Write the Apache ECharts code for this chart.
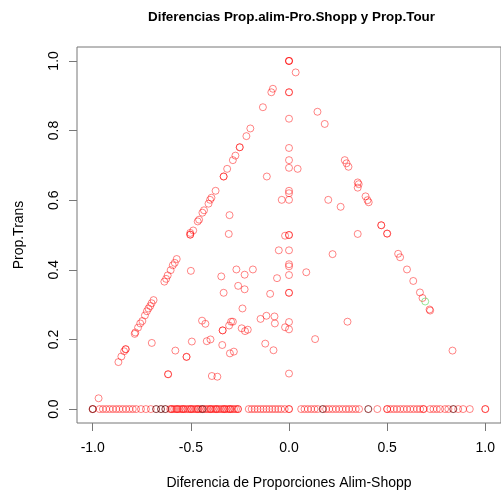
<!DOCTYPE html>
<html>
<head>
<meta charset="utf-8">
<script src="https://cdn.jsdelivr.net/npm/echarts@6/dist/echarts.min.js"></script>
<style>
  html, body { margin: 0; padding: 0; background: #fff; }
  #chart { width: 501px; height: 495px; }
</style>
</head>
<body>
<div id="chart"></div>
<script>
// puntos (x = diferencia alim-shopp, y = prop.trans)
var colCeroY = [1.0, 1.0, 1.0, 0.91, 0.91, 0.834, 0.75, 0.715, 0.693, 0.627, 0.62, 0.601, 0.5, 0.5,
                0.456, 0.416, 0.41, 0.385, 0.334, 0.334, 0.25, 0.229, 0.102];

var diagIzqX = [-0.082, -0.09, -0.133, -0.197, -0.217, -0.251, -0.251, -0.273, -0.286, -0.315, -0.333, -0.333,
                -0.374, -0.395, -0.402, -0.41, -0.433, -0.441, -0.458, -0.465, -0.488, -0.503, -0.503, -0.503,
                -0.572, -0.582, -0.592, -0.603, -0.618, -0.626, -0.635, -0.69, -0.70, -0.707, -0.716, -0.724,
                -0.734, -0.747, -0.758, -0.769, -0.783, -0.786, -0.832, -0.832, -0.84, -0.854, -0.869, -0.97];
var diagIzqY = [0.92, 0.91, 0.867, 0.806, 0.784, 0.752, 0.752, 0.728, 0.715, 0.69, 0.668, 0.668,
                0.627, 0.607, 0.601, 0.59, 0.571, 0.564, 0.544, 0.539, 0.513, 0.506, 0.501, 0.501,
                0.431, 0.42, 0.413, 0.399, 0.384, 0.374, 0.366, 0.313, 0.304, 0.296, 0.289, 0.281,
                0.269, 0.253, 0.246, 0.234, 0.22, 0.216, 0.172, 0.172, 0.166, 0.151, 0.135, 0.031];

var diagDerX = [0.034, 0.145, 0.182, 0.284, 0.293, 0.303, 0.35, 0.355, 0.35, 0.39, 0.40, 0.406, 0.47, 0.47,
                0.5, 0.5, 0.556, 0.566, 0.601, 0.633, 0.667, 0.68, 0.716, 0.719];
var diagDerY = [0.967, 0.854, 0.819, 0.715, 0.706, 0.696, 0.651, 0.646, 0.636, 0.611, 0.6, 0.594, 0.528, 0.528,
                0.504, 0.504, 0.446, 0.436, 0.401, 0.368, 0.335, 0.319, 0.286, 0.283];

var interiorX = [-0.113, 0.044, -0.303, -0.037, -0.307, -0.02, 0.2, 0.263, 0.35, -0.052, 0.222, -0.268,
                 -0.226, -0.184, -0.345, -0.061, 0.088, -0.259, -0.226, -0.333, -0.096, -0.237, -0.295, -0.286,
                 -0.305, -0.338, -0.338, -0.241, -0.224, -0.21, -0.145, -0.115, -0.074, -0.072, -0.02, 0.298,
                 0.133, -0.34, -0.121, -0.079, -0.301, -0.281, -0.5, -0.443, -0.426, -0.419, -0.40, -0.699,
                 -0.579, -0.522, -0.522, -0.495, -0.616, -0.616, -0.393, -0.365, 0.833];
var interiorY = [0.668, 0.69, 0.557, 0.601, 0.503, 0.498, 0.601, 0.581, 0.503, 0.456, 0.445, 0.401,
                 0.386, 0.401, 0.381, 0.376, 0.393, 0.354, 0.344, 0.334, 0.331, 0.289, 0.251, 0.251,
                 0.24, 0.226, 0.226, 0.232, 0.224, 0.228, 0.259, 0.268, 0.266, 0.246, 0.235, 0.251,
                 0.201, 0.184, 0.188, 0.169, 0.16, 0.165, 0.397, 0.254, 0.245, 0.195, 0.2, 0.19,
                 0.168, 0.15, 0.15, 0.194, 0.1, 0.1, 0.095, 0.093, 0.168];

// fila de ceros (y = 0)
var filaCeroX = [-1.0, -1.0, -0.965, -0.948, -0.931, -0.914, -0.897, -0.88, -0.864, -0.847, -0.83, -0.813, -0.796,
                 -0.779, -0.754, -0.729, -0.704, -0.677, -0.652, -0.63,
                 -0.605, -0.6, -0.595, -0.585, -0.575, -0.57, -0.565, -0.556, -0.546, -0.54, -0.536, -0.527,
                 -0.517, -0.508, -0.5, -0.498, -0.489, -0.479, -0.47, -0.465, -0.46, -0.45, -0.441, -0.432,
                 -0.422, -0.413, -0.403, -0.4, -0.394, -0.384, -0.375, -0.37, -0.365, -0.356, -0.346, -0.337,
                 -0.33, -0.327, -0.318, -0.308, -0.3, -0.299, -0.289, -0.28, -0.27, -0.26, -0.26,
                 -0.205, -0.19, -0.175, -0.16, -0.145, -0.13, -0.115, -0.1, -0.085,
                 -0.07, -0.055, -0.04, -0.022, 0.0, 0.0,
                 0.062, 0.079, 0.096, 0.113, 0.13, 0.146, 0.172, 0.189, 0.205, 0.222, 0.239, 0.256, 0.273,
                 0.29, 0.306, 0.323, 0.34, 0.357, 0.404, 0.45, 0.5, 0.5, 0.517, 0.534, 0.55, 0.567, 0.584,
                 0.601, 0.618, 0.635, 0.652, 0.668, 0.685, 0.685, 0.719, 0.736, 0.753, 0.77, 0.795, 0.812,
                 0.837, 0.862, 0.887, 0.921, 1.0, 1.0];
var filaCeroOscX = [-1.0, -0.677, -0.652, -0.63, -0.441, 0.172, 0.404, 0.837];

var verdeX = [0.694];
var verdeY = [0.309];

var xTicks = [-1.0, -0.5, 0.0, 0.5, 1.0];
var yTicks = [0.0, 0.2, 0.4, 0.6, 0.8, 1.0];

function pares(xs, ys) {
  return xs.map(function (x, i) { return [x, ys[i]]; });
}

var rojos = []
  .concat(colCeroY.map(function (y) { return [0, y]; }))
  .concat(pares(diagIzqX, diagIzqY))
  .concat(pares(diagDerX, diagDerY))
  .concat(pares(interiorX, interiorY))
  .concat(filaCeroX.map(function (x) { return [x, 0]; }));
var oscuros = filaCeroOscX.map(function (x) { return [x, 0]; });
var verdes = pares(verdeX, verdeY);

var fuente = 'Liberation Sans, Arial, sans-serif';

function serie(datos, borde) {
  return {
    type: 'scatter',
    data: datos,
    symbol: 'circle',
    symbolSize: 7,
    silent: true,
    itemStyle: { color: 'transparent', borderColor: borde, borderWidth: 1 }
  };
}

var chart = echarts.init(document.getElementById('chart'), null, { renderer: 'canvas' });
chart.setOption({
  animation: false,
  backgroundColor: '#fff',
  title: {
    text: 'Diferencias Prop.alim-Pro.Shopp y Prop.Tour',
    left: 143, top: 6,
    textStyle: { fontFamily: fuente, fontWeight: 'bold', fontSize: 13.4, color: '#000' }
  },
  grid: { left: 77, top: 47, width: 428, height: 377, show: true, borderColor: '#777', borderWidth: 1, backgroundColor: 'transparent' },
  xAxis: {
    type: 'value', min: -1.08, max: 1.08,
    name: 'Diferencia de Proporciones Alim-Shopp', nameLocation: 'middle', nameGap: 53,
    nameTextStyle: { fontFamily: fuente, fontSize: 14, color: '#000' },
    axisLine: { show: false, onZero: false },
    splitLine: { show: false },
    axisTick: { show: true, length: 8, customValues: xTicks, lineStyle: { color: '#777' } },
    axisLabel: { customValues: xTicks, margin: 18, fontFamily: fuente, fontSize: 14, color: '#000',
                 formatter: function (v) { return v.toFixed(1); } }
  },
  yAxis: {
    type: 'value', min: -0.04, max: 1.04,
    name: 'Prop.Trans', nameLocation: 'middle', nameGap: 51,
    nameTextStyle: { fontFamily: fuente, fontSize: 14, color: '#000' },
    axisLine: { show: false, onZero: false },
    splitLine: { show: false },
    axisTick: { show: true, length: 8, customValues: yTicks, lineStyle: { color: '#777' } },
    axisLabel: { customValues: yTicks, rotate: 90, margin: 16, fontFamily: fuente, fontSize: 14, color: '#000',
                 formatter: function (v) { return v.toFixed(1); } }
  },
  series: [
    serie(rojos, 'rgba(255,0,0,0.6)'),
    serie(oscuros, 'rgba(0,0,0,0.55)'),
    serie(verdes, 'rgba(0,190,0,0.5)')
  ]
});
</script>
</body>
</html>
